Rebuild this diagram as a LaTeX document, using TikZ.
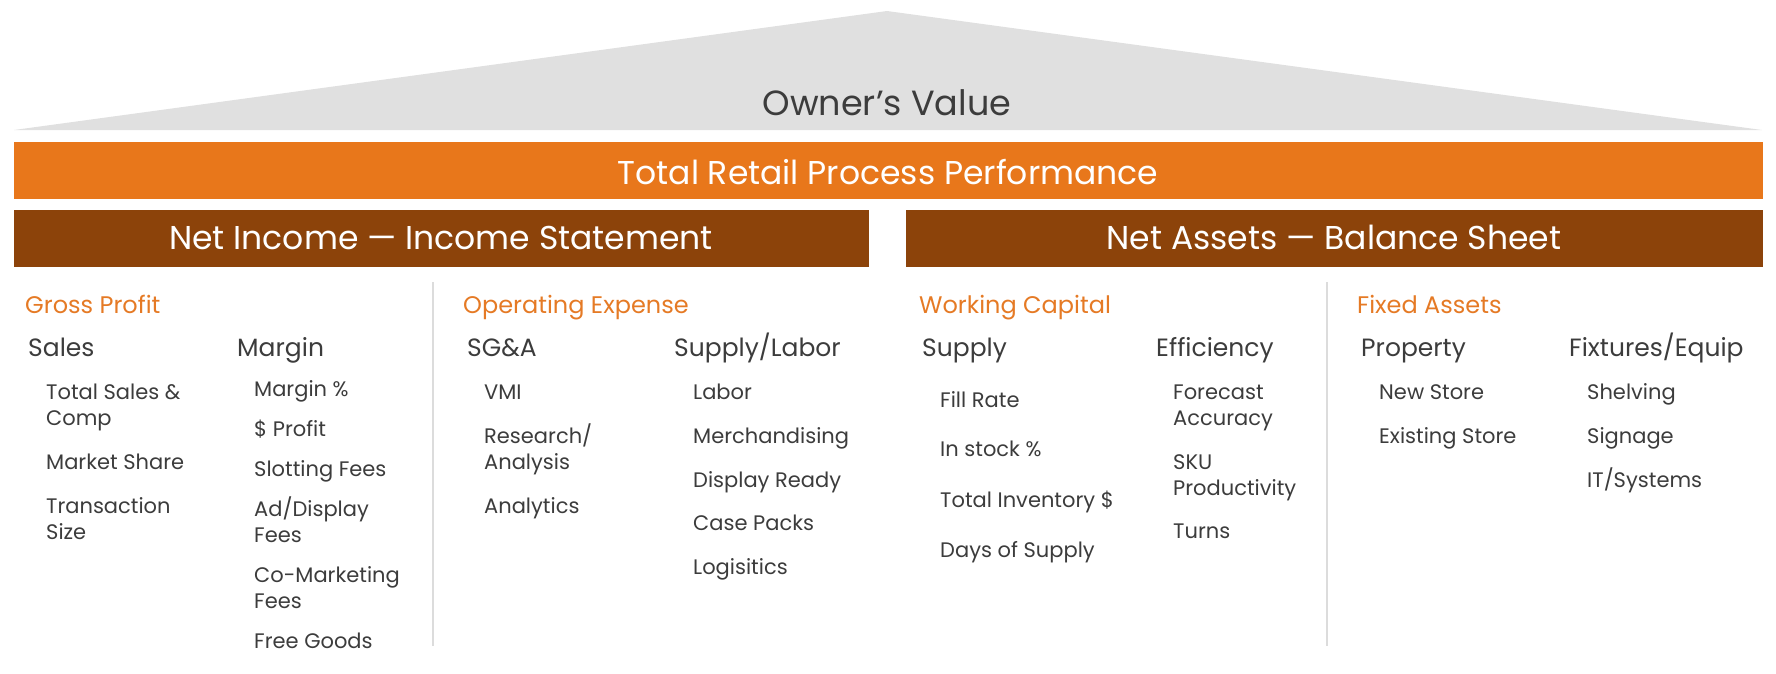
\documentclass[tikz,border=0pt]{standalone}
\usepackage{fontspec}
\setmainfont{Poppins}
\usetikzlibrary{positioning}
\definecolor{roof}{HTML}{E0E0E0}
\definecolor{retail}{HTML}{E8771B}
\definecolor{ledger}{HTML}{8C430A}
\definecolor{accent}{HTML}{E57A25}
\definecolor{ink}{HTML}{3C3C3C}
\definecolor{rule}{HTML}{DCDCDC}

\begin{document}
\begin{tikzpicture}[x=1pt, y=-1pt,
  head/.style={anchor=base, inner sep=0pt, font=\fontsize{33}{40}\selectfont},
  group/.style={anchor=base west, inner sep=0pt, text=accent, font=\fontsize{24}{30}\selectfont},
  col/.style={anchor=base west, inner sep=0pt, text=ink, font=\fontsize{25}{30}\selectfont},
  item/.style={anchor=base west, inner sep=0pt, text=ink, align=left, font=\fontsize{21}{26}\selectfont}]
  \useasboundingbox (0,0) rectangle (1776,673);

  % roof and bars
  \fill[roof] (14,130) -- (887,11) -- (1762,130) -- cycle;
  \fill[retail] (14,142) rectangle (1763,199);
  \fill[ledger] (14,210) rectangle (869,267);
  \fill[ledger] (906,210) rectangle (1763,267);
  \node[head, text=ink, font=\fontsize{35}{40}\selectfont] (owner) at (887,115) {Owner’s Value};
  \node[head, text=white] (total) at (888,184) {Total Retail Process Performance};
  \node[head, text=white] (income) at (441,249) {Net Income — Income Statement};
  \node[head, text=white] (assets) at (1334,249) {Net Assets — Balance Sheet};

  % separators
  \draw[rule, line width=1.5pt] (433,282) -- (433,646);
  \draw[rule, line width=1.5pt] (1327,282) -- (1327,646);

  % Gross Profit (two-line items sit on their last line)
  \node[group] (gross) at (25,313) {Gross Profit};
  \node[col] (sales) at (28,356) {Sales};
  \node[col] (margin) at (237,356) {Margin};
  \foreach \y/\t [count=\i] in {425/{Total Sales \&\\Comp}, 469/Market Share, 539/{Transaction\\Size}}
    \node[item] (sales-\i) at (46,\y) {\t};
  \foreach \y/\t [count=\i] in {396/Margin \%, 436/\$ Profit, 476/Slotting Fees,
      542/{Ad/Display\\Fees}, 608/{Co-Marketing\\Fees}, 648/Free Goods}
    \node[item] (margin-\i) at (254,\y) {\t};

  % Operating Expense
  \node[group] (opex) at (463,313) {Operating Expense};
  \node[col] (sga) at (467,356) {SG\&A};
  \node[col] (labor) at (674,356) {Supply/Labor};
  \foreach \y/\t [count=\i] in {399/VMI, 469/{Research/\\Analysis}, 513/Analytics}
    \node[item] (sga-\i) at (484,\y) {\t};
  \foreach \y/\t [count=\i] in {399/Labor, 443/Merchandising, 487/Display Ready, 530/Case Packs, 574/Logisitics}
    \node[item] (labor-\i) at (693,\y) {\t};

  % Working Capital
  \node[group] (working) at (919,313) {Working Capital};
  \node[col] (supply) at (922,356) {Supply};
  \node[col] (effic) at (1156,356) {Efficiency};
  \foreach \y/\t [count=\i] in {407/Fill Rate, 456/In stock \%, 507/Total Inventory \$, 557/Days of Supply}
    \node[item] (supply-\i) at (940,\y) {\t};
  \foreach \y/\t [count=\i] in {425/{Forecast\\Accuracy}, 495/{SKU\\Productivity}, 538/Turns}
    \node[item] (effic-\i) at (1173,\y) {\t};

  % Fixed Assets
  \node[group] (fixed) at (1357,313) {Fixed Assets};
  \node[col] (property) at (1361,356) {Property};
  \node[col] (fixtures) at (1569,356) {Fixtures/Equip};
  \foreach \y/\t [count=\i] in {399/New Store, 443/Existing Store}
    \node[item] (property-\i) at (1379,\y) {\t};
  \foreach \y/\t [count=\i] in {399/Shelving, 443/Signage, 487/{IT/Systems}}
    \node[item] (fixtures-\i) at (1587,\y) {\t};
\end{tikzpicture}
\end{document}
